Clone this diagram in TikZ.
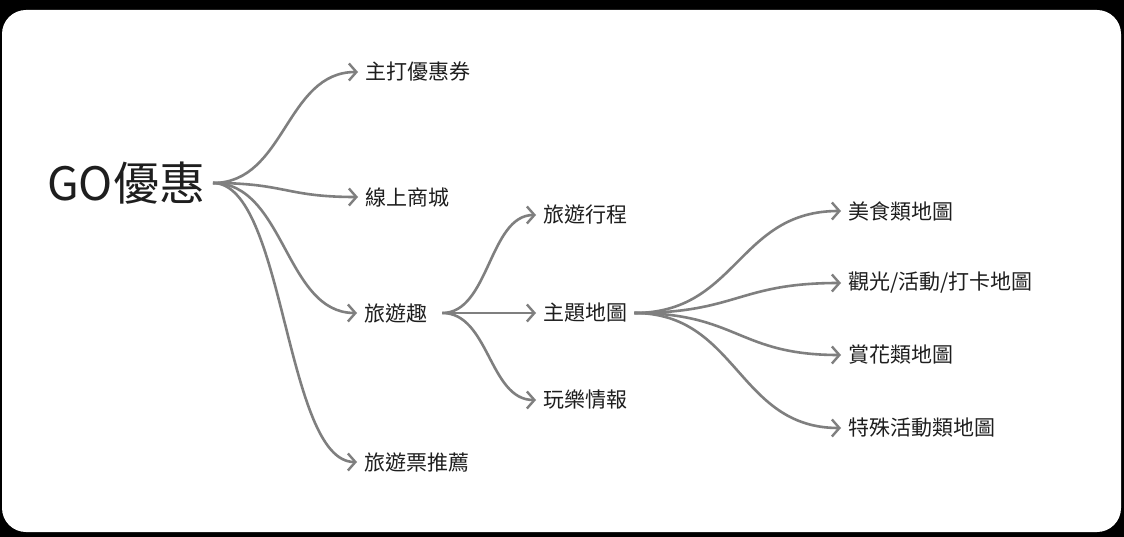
\documentclass[tikz,border=0pt]{standalone}
\usepackage{fontspec}
\newfontfamily\cjk{Noto Sans CJK TC}
\usetikzlibrary{arrows.meta,calc}
\definecolor{linegray}{HTML}{7F7F7F}
\definecolor{inkdark}{HTML}{1E1E1E}
\tikzset{
  leaf/.style={anchor=west, inner xsep=7pt, inner ysep=0pt, text=inkdark,
    font=\cjk\fontsize{21}{23}\selectfont},
  rootlabel/.style={inner sep=0pt, text=inkdark,
    font=\cjk\fontsize{46}{48}\selectfont},
  branch/.style={draw=linegray, line width=2.6pt,
    -{Straight Barb[length=7.5pt,width=17pt,line width=2.4pt]},
    to path={let \p1=(\tikztostart), \p2=(\tikztotarget), \n1={(\x2-\x1)/2} in
      (\p1) .. controls (\x1+\n1,\y1) and (\x2-\n1,\y2) .. (\p2) \tikztonodes}}
}
\begin{document}
\begin{tikzpicture}[x=1pt,y=-1pt]
  \useasboundingbox (0,0) rectangle (1124,537);
  % frame
  \fill[black] (0,0) rectangle (1124,537);
  \fill[white, rounded corners=24pt] (2,10) rectangle (1121,532);

  % root
  \node[rootlabel, anchor=west] (root) at (47,183) {GO優惠};
  \coordinate (rootout) at (213,183);

  % first level
  \node[leaf] (coupon) at (358,72)  {主打優惠券};
  \node[leaf] (mall)   at (358,197) {線上商城};
  \node[leaf] (fun)    at (357,313) {旅遊趣};
  \node[leaf] (ticket) at (357,462) {旅遊票推薦};

  % second level
  \node[leaf] (trip)   at (536,215) {旅遊行程};
  \node[leaf] (themap) at (536,313) {主題地圖};
  \node[leaf] (news)   at (536,400) {玩樂情報};

  % third level
  \node[leaf] (food)    at (841,211) {美食類地圖};
  \node[leaf] (sight)   at (841,283) {觀光/活動/打卡地圖};
  \node[leaf] (flower)  at (841,355) {賞花類地圖};
  \node[leaf] (special) at (841,428) {特殊活動類地圖};

  \coordinate (funout) at ([xshift=8pt]fun.east);
  \coordinate (mapout) at (themap.east);

  \foreach \t in {coupon,mall,fun,ticket}
    \draw[branch] (rootout) to (\t.west);
  \foreach \t in {trip,themap,news}
    \draw[branch] (funout) to (\t.west);
  \foreach \t in {food,sight,flower,special}
    \draw[branch] (mapout) to (\t.west);
\end{tikzpicture}
\end{document}
